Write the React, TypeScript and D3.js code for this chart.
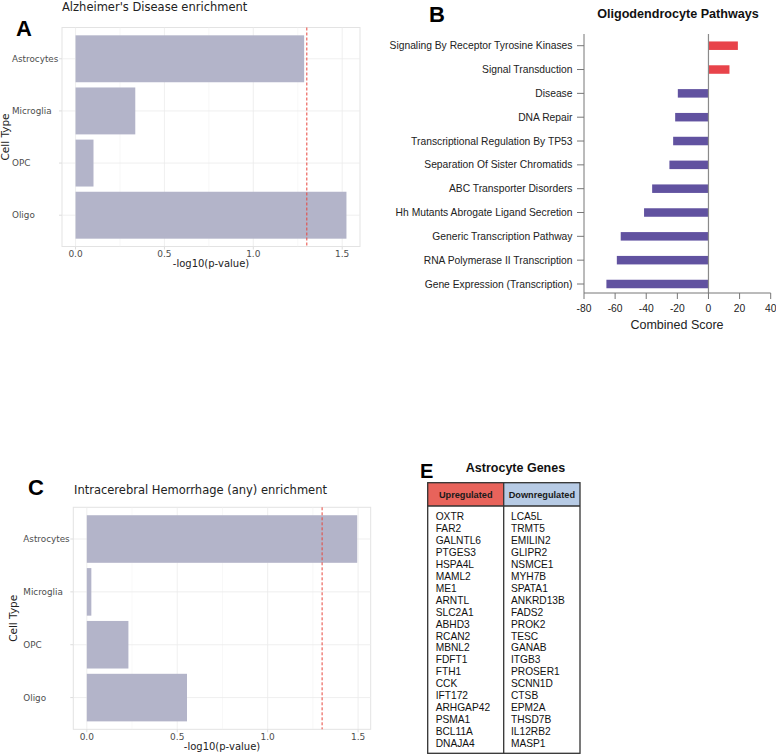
import React from "react";
import * as d3 from "d3";

const cellTypes = ["Astrocytes", "Microglia", "OPC", "Oligo"];
const adValues = [1.286, 0.336, 0.101, 1.524];
const ichValues = [1.495, 0.025, 0.23, 0.554];
const enrichTicks = [0, 0.5, 1.0, 1.5];
const enrichMinor = [0.25, 0.75, 1.25];
const sigThreshold = -Math.log10(0.05);

const pathways = [
  "Signaling By Receptor Tyrosine Kinases",
  "Signal Transduction",
  "Disease",
  "DNA Repair",
  "Transcriptional Regulation By TP53",
  "Separation Of Sister Chromatids",
  "ABC Transporter Disorders",
  "Hh Mutants Abrogate Ligand Secretion",
  "Generic Transcription Pathway",
  "RNA Polymerase II Transcription",
  "Gene Expression (Transcription)",
];
const pathwayScores = [18.9, 13.5, -19.7, -21.4, -22.7, -25.1, -36.2, -41.4, -56.4, -58.9, -65.6];
const scoreTicks = [-80, -60, -40, -20, 0, 20, 40];

const upGenes = ["OXTR","FAR2","GALNTL6","PTGES3","HSPA4L","MAML2","ME1","ARNTL","SLC2A1","ABHD3","RCAN2","MBNL2","FDFT1","FTH1","CCK","IFT172","ARHGAP42","PSMA1","BCL11A","DNAJA4"];
const downGenes = ["LCA5L","TRMT5","EMILIN2","GLIPR2","NSMCE1","MYH7B","SPATA1","ANKRD13B","FADS2","PROK2","TESC","GANAB","ITGB3","PROSER1","SCNN1D","CTSB","EPM2A","THSD7B","IL12RB2","MASP1"];

const SANS = "'DejaVu Sans', sans-serif";
const ARIAL = "'Liberation Sans', Arial, sans-serif";

type EnrichProps = {
  values: number[];
  title: string;
  letter: string;
  x0: number; x1: number; y0: number; y1: number;
  titleX: number; titleY: number;
  letterX: number; letterY: number;
  labelX: number; cellTypeX: number;
};

function EnrichPanel(p: EnrichProps) {
  const maxV = d3.max(p.values) as number;
  const pad = maxV * 0.05;
  const x = d3.scaleLinear().domain([-pad, maxV + pad]).range([p.x0, p.x1]);
  const y = d3.scaleBand().domain(cellTypes).range([p.y0, p.y1]).paddingInner(0.1).paddingOuter(0.15);
  const grid = "#ebebeb";
  return (
    <g>
      <text x={p.letterX} y={p.letterY} fontFamily={ARIAL} fontWeight="bold" fontSize={22} fill="#000">{p.letter}</text>
      <text x={p.titleX} y={p.titleY} fontFamily={SANS} fontSize={11.5} fill="#222">{p.title}</text>
      <rect x={p.x0} y={p.y0} width={p.x1 - p.x0} height={p.y1 - p.y0} fill="#fff" stroke="#e3e3e3" strokeWidth={1} />
      {enrichMinor.filter((t) => x(t) < p.x1).map((t) => (
        <line key={"mn" + t} x1={x(t)} x2={x(t)} y1={p.y0} y2={p.y1} stroke="#f3f3f3" strokeWidth={0.6} />
      ))}
      {enrichTicks.map((t) => (
        <line key={"mj" + t} x1={x(t)} x2={x(t)} y1={p.y0} y2={p.y1} stroke={grid} strokeWidth={0.8} />
      ))}
      {cellTypes.map((c) => (
        <line key={"h" + c} x1={p.x0} x2={p.x1} y1={(y(c) as number) + y.bandwidth() / 2} y2={(y(c) as number) + y.bandwidth() / 2} stroke={grid} strokeWidth={0.8} />
      ))}
      {cellTypes.map((c, i) => (
        <rect key={"b" + c} x={x(0)} y={y(c) as number} width={x(p.values[i]) - x(0)} height={y.bandwidth()} fill="#b3b4c9" />
      ))}
      <line x1={x(sigThreshold)} x2={x(sigThreshold)} y1={p.y0} y2={p.y1} stroke="#e8453c" strokeWidth={1} strokeDasharray="3,2" />
      {cellTypes.map((c) => (
        <g key={"t" + c}>
          <line x1={p.x0 - 3} x2={p.x0} y1={(y(c) as number) + y.bandwidth() / 2} y2={(y(c) as number) + y.bandwidth() / 2} stroke="#ddd" />
          <text x={p.labelX} y={(y(c) as number) + y.bandwidth() / 2} dy="0.35em" fontFamily={SANS} fontSize={8.8} fill="#4d4d4d">{c}</text>
        </g>
      ))}
      {enrichTicks.map((t) => (
        <g key={"xt" + t}>
          <line x1={x(t)} x2={x(t)} y1={p.y1} y2={p.y1 + 3} stroke="#ddd" />
          <text x={x(t)} y={p.y1 + 7.5} dy="0.35em" textAnchor="middle" fontFamily={SANS} fontSize={9} fill="#4d4d4d">{t.toFixed(1)}</text>
        </g>
      ))}
      <text x={(p.x0 + p.x1) / 2} y={p.y1 + 17} dy="0.35em" textAnchor="middle" fontFamily={SANS} fontSize={10} fill="#222">-log10(p-value)</text>
      <text transform={`translate(${p.cellTypeX},${(p.y0 + p.y1) / 2}) rotate(-90)`} textAnchor="middle" dy="0.35em" fontFamily={SANS} fontSize={10.5} fill="#222">Cell Type</text>
    </g>
  );
}

function PathwayPanel() {
  const x = d3.scaleLinear().domain([-80, 40]).range([584, 770.7]);
  const y = d3.scalePoint().domain(pathways).range([45.7, 284]);
  const top = 34, bottom = 293;
  const bh = 8.5;
  return (
    <g>
      <text x={429} y={22} fontFamily={ARIAL} fontWeight="bold" fontSize={22} fill="#000">B</text>
      <text x={678} y={18} textAnchor="middle" fontFamily={ARIAL} fontWeight="bold" fontSize={12.6} fill="#111">Oligodendrocyte Pathways</text>
      {pathways.map((pth, i) => {
        const v = pathwayScores[i];
        const xs = Math.min(x(0), x(v));
        return (
          <rect key={pth} x={xs} y={(y(pth) as number) - bh / 2} width={Math.abs(x(v) - x(0))} height={bh} fill={v > 0 ? "#e8434a" : "#6152a0"} />
        );
      })}
      <line x1={x(0)} x2={x(0)} y1={top} y2={bottom} stroke="#8a8a8a" strokeWidth={1.2} />
      <line x1={584} x2={584} y1={top} y2={bottom} stroke="#777" strokeWidth={1} />
      <line x1={584} x2={x(40)} y1={bottom} y2={bottom} stroke="#777" strokeWidth={1} />
      {pathways.map((pth) => (
        <g key={"l" + pth}>
          <line x1={577} x2={584} y1={y(pth) as number} y2={y(pth) as number} stroke="#777" />
          <text x={572.5} y={y(pth) as number} dy="0.35em" textAnchor="end" fontFamily={ARIAL} fontSize={10.3} fill="#222">{pth}</text>
        </g>
      ))}
      {scoreTicks.map((t) => (
        <g key={"st" + t}>
          <line x1={x(t)} x2={x(t)} y1={bottom} y2={bottom + 6} stroke="#777" />
          <text x={x(t)} y={bottom + 15.5} dy="0.35em" textAnchor="middle" fontFamily={ARIAL} fontSize={10.3} fill="#222">{t}</text>
        </g>
      ))}
      <text x={677} y={324.5} dy="0.35em" textAnchor="middle" fontFamily={ARIAL} fontSize={12.5} fill="#222">Combined Score</text>
    </g>
  );
}

function GeneTable() {
  const left = 427.7, mid = 503.7, right = 580;
  const top = 482.7, headBottom = 506, bottom = 753.3;
  const rows = d3.range(upGenes.length);
  const y = d3.scaleLinear().domain([0, upGenes.length - 1]).range([516.7, 743.3]);
  return (
    <g>
      <text x={420} y={477.5} fontFamily={ARIAL} fontWeight="bold" fontSize={20} fill="#000">E</text>
      <text x={515.5} y={471.5} textAnchor="middle" fontFamily={ARIAL} fontWeight="bold" fontSize={12.5} fill="#111">Astrocyte Genes</text>
      <rect x={left} y={top} width={mid - left} height={headBottom - top} fill="#e8635b" />
      <rect x={mid} y={top} width={right - mid} height={headBottom - top} fill="#b7cbe5" />
      <rect x={left} y={top} width={right - left} height={bottom - top} fill="none" stroke="#333" strokeWidth={1.3} />
      <line x1={left} x2={right} y1={headBottom} y2={headBottom} stroke="#333" strokeWidth={1.3} />
      <line x1={mid} x2={mid} y1={top} y2={bottom} stroke="#333" strokeWidth={1.3} />
      <text x={(left + mid) / 2} y={(top + headBottom) / 2} dy="0.35em" textAnchor="middle" fontFamily={ARIAL} fontWeight="bold" fontSize={9.2} fill="#1a1a1a">Upregulated</text>
      <text x={(mid + right) / 2} y={(top + headBottom) / 2} dy="0.35em" textAnchor="middle" fontFamily={ARIAL} fontWeight="bold" fontSize={9.2} fill="#1a1a1a">Downregulated</text>
      {rows.map((i) => (
        <g key={"g" + i}>
          <text x={435.7} y={y(i)} dy="0.35em" fontFamily={ARIAL} fontSize={10.2} fill="#111">{upGenes[i]}</text>
          <text x={511} y={y(i)} dy="0.35em" fontFamily={ARIAL} fontSize={10.2} fill="#111">{downGenes[i]}</text>
        </g>
      ))}
    </g>
  );
}

export default function App() {
  return (
    <svg width={776} height={755} style={{ position: "absolute", left: 0, top: 0, background: "#fff" }}>
      <rect width={776} height={755} fill="#fff" />
      <EnrichPanel
        values={adValues}
        title="Alzheimer's Disease enrichment"
        letter="A"
        x0={62} x1={360} y0={27.5} y1={246.5}
        titleX={62} titleY={10.5}
        letterX={16} letterY={36}
        labelX={12} cellTypeX={5}
      />
      <PathwayPanel />
      <EnrichPanel
        values={ichValues}
        title="Intracerebral Hemorrhage (any) enrichment"
        letter="C"
        x0={73.3} x1={370.7} y0={507.3} y1={729.3}
        titleX={74} titleY={494}
        letterX={28} letterY={495}
        labelX={23.3} cellTypeX={13}
      />
      <GeneTable />
    </svg>
  );
}
